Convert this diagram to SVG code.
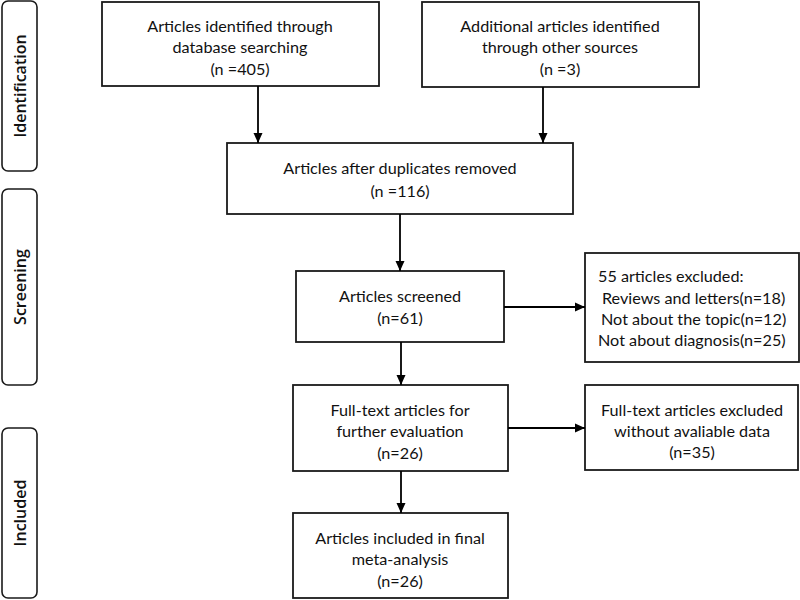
<svg xmlns="http://www.w3.org/2000/svg" width="800" height="600" viewBox="0 0 800 600">
<defs>
<style>
.box{fill:#fff;stroke:#1a1a1a;stroke-width:1.8}
.side{fill:#fff;stroke:#1a1a1a;stroke-width:1.6}
.t{font-family:Lato,"Open Sans",sans-serif;font-size:16.2px;fill:#111;text-anchor:middle;dominant-baseline:central}
.tl{font-family:Lato,"Open Sans",sans-serif;font-size:16.2px;fill:#111;dominant-baseline:central}
.st{font-family:"Open Sans",Lato,sans-serif;font-size:16px;font-weight:600;fill:#111;text-anchor:middle;dominant-baseline:central}
.c{stroke:#000;stroke-width:1.8;fill:none;marker-end:url(#ah)}
</style>
<marker id="ah" viewBox="0 0 10 10" refX="10" refY="5" markerUnits="userSpaceOnUse" markerWidth="10" markerHeight="10" orient="auto">
<path d="M0,0.5 L10,5 L0,9.5 Z" fill="#000"/>
</marker>
</defs>
<rect width="800" height="600" fill="#fff"/>
<g id="stage-identification">
<rect class="side" x="2" y="1" width="35" height="170" rx="6"/>
<text class="st" transform="translate(20,86) rotate(-90)">Identification</text>
</g>
<g id="stage-screening">
<rect class="side" x="2" y="189" width="35" height="196" rx="6"/>
<text class="st" transform="translate(20,287) rotate(-90)">Screening</text>
</g>
<g id="stage-included">
<rect class="side" x="2" y="428" width="35" height="170" rx="6"/>
<text class="st" transform="translate(20,513) rotate(-90)">Included</text>
</g>
<g id="n-database">
<rect class="box" x="102" y="2" width="277" height="84"/>
<text class="t" x="240" y="25">Articles identified through</text>
<text class="t" x="240" y="46">database searching</text>
<text class="t" x="240" y="68">(n =405)</text>
</g>
<g id="n-other">
<rect class="box" x="422" y="2" width="277" height="85"/>
<text class="t" x="560" y="25">Additional articles identified</text>
<text class="t" x="560" y="46">through other sources</text>
<text class="t" x="560" y="68">(n =3)</text>
</g>
<g id="n-duplicates">
<rect class="box" x="227" y="143" width="346" height="71"/>
<text class="t" x="400" y="167">Articles after duplicates removed</text>
<text class="t" x="400" y="190">(n =116)</text>
</g>
<g id="n-screened">
<rect class="box" x="296" y="271" width="208" height="71"/>
<text class="t" x="400" y="295">Articles screened</text>
<text class="t" x="400" y="317">(n=61)</text>
</g>
<g id="n-excluded1">
<rect class="box" x="585" y="253" width="214" height="109"/>
<text class="tl" x="598" y="275">55 articles excluded:</text>
<text class="tl" x="602" y="297">Reviews and letters(n=18)</text>
<text class="tl" x="601" y="318">Not about the topic(n=12)</text>
<text class="tl" x="598" y="339">Not about diagnosis(n=25)</text>
</g>
<g id="n-fulltext">
<rect class="box" x="293" y="385" width="215" height="86"/>
<text class="t" x="400" y="409">Full-text articles for</text>
<text class="t" x="400" y="430">further evaluation</text>
<text class="t" x="400" y="452">(n=26)</text>
</g>
<g id="n-excluded2">
<rect class="box" x="585" y="385" width="213" height="85"/>
<text class="t" x="692" y="409">Full-text articles excluded</text>
<text class="t" x="692" y="430">without avaliable data</text>
<text class="t" x="692" y="451">(n=35)</text>
</g>
<g id="n-included">
<rect class="box" x="293" y="513" width="215" height="85"/>
<text class="t" x="400" y="537">Articles included in final</text>
<text class="t" x="400" y="558">meta-analysis</text>
<text class="t" x="400" y="580">(n=26)</text>
</g>
<g id="connectors">
<line class="c" x1="258" y1="86" x2="258" y2="143"/>
<line class="c" x1="543" y1="87" x2="543" y2="143"/>
<line class="c" x1="400" y1="214" x2="400" y2="271"/>
<line class="c" x1="504" y1="307" x2="585" y2="307"/>
<line class="c" x1="401" y1="342" x2="401" y2="385"/>
<line class="c" x1="508" y1="428" x2="585" y2="428"/>
<line class="c" x1="401" y1="471" x2="401" y2="513"/>
</g>
</svg>
